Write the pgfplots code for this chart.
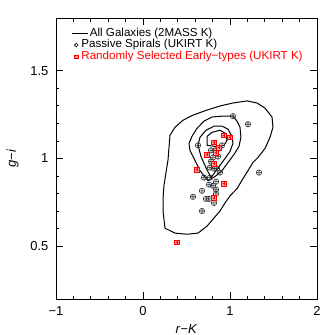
\documentclass[border=0pt]{standalone}
\usepackage{fontspec}
\setmainfont{Liberation Sans}
\usepackage{pgfplots}
\pgfplotsset{compat=1.18}
\usetikzlibrary{calc,plotmarks}
\pgfdeclareplotmark{sqplus}{%
  \pgfpathrectangle{\pgfqpoint{-\pgfplotmarksize}{-\pgfplotmarksize}}{\pgfqpoint{2\pgfplotmarksize}{2\pgfplotmarksize}}%
  \pgfusepathqfillstroke
  \pgfpathmoveto{\pgfqpoint{-0.6\pgfplotmarksize}{0pt}}\pgfpathlineto{\pgfqpoint{0.6\pgfplotmarksize}{0pt}}%
  \pgfpathmoveto{\pgfqpoint{0pt}{-0.6\pgfplotmarksize}}\pgfpathlineto{\pgfqpoint{0pt}{0.6\pgfplotmarksize}}%
  \pgfusepathqstroke}
\begin{document}
\begin{tikzpicture}
\begin{axis}[
  scale only axis, width=261pt, height=281pt,
  xmin=-1, xmax=2, ymin=0.2, ymax=1.8,
  xtick={-1,0,1,2}, xticklabels={−1,0,1,2},
  ytick={0.5,1,1.5}, yticklabels={0.5,1,1.5},
  minor x tick num=4, minor y tick num=4,
  major tick length=7pt, minor tick length=3.5pt,
  tick style={black, line width=0.8pt},
  axis line style={line width=0.8pt},
  tick label style={font=\fontsize{13}{13}\selectfont},
  xticklabel style={yshift=-4pt},
  yticklabel style={xshift=-4pt},
  xlabel={\textit{r}−\textit{K}}, ylabel={\textit{g}−\textit{i}},
  label style={font=\fontsize{13}{13}\selectfont},
  xlabel shift=2pt, ylabel shift=5pt,
  legend style={at={(rel axis cs:0,1)}, anchor=north west, xshift=18pt, yshift=-10pt,
    draw=none, fill=none, inner sep=0pt, row sep=0pt,
    font=\fontsize{11.6}{11.6}\selectfont,
    nodes={inner sep=0.5pt, text height=8pt, text depth=2.3pt},
    /tikz/every odd column/.append style={column sep=2.5pt}},
  legend cell align=left,
]
\coordinate (bl) at (rel axis cs:0,0);
\coordinate (tr) at (rel axis cs:1,1);
% outer contour
\addplot[black, line width=1pt, mark=none,
  legend image code/.code={\path[draw=none,fill=none] (-2pt,-2pt) rectangle (2pt,2pt); \draw[overlay, black, line width=0.8pt] (-4pt,0pt) -- (12pt,0pt);}]
coordinates {(0.253,0.603) (0.368,0.575) (0.506,0.569) (0.632,0.575) (0.736,0.615) (0.805,0.655) (0.885,0.701) (0.943,0.747) (1.0,0.787) (1.080,0.828) (1.149,0.885) (1.207,0.931) (1.264,0.977) (1.322,1.006) (1.402,1.057) (1.460,1.121) (1.494,1.178) (1.483,1.236) (1.402,1.287) (1.310,1.316) (1.195,1.328) (1.034,1.316) (0.885,1.299) (0.736,1.276) (0.575,1.247) (0.460,1.218) (0.368,1.178) (0.310,1.132) (0.299,1.063) (0.287,0.989) (0.264,0.920) (0.241,0.845) (0.230,0.770) (0.230,0.701) (0.253,0.603)};
\addlegendentry{\hspace*{8.5pt}All Galaxies (2MASS K)}
% second contour
\addplot[black, line width=1pt, mark=none, forget plot]
coordinates {(0.747,0.874) (0.655,0.931) (0.598,0.989) (0.540,1.046) (0.529,1.086) (0.563,1.126) (0.621,1.172) (0.701,1.213) (0.793,1.236) (0.908,1.241) (1.034,1.241) (1.080,1.213) (1.115,1.178) (1.126,1.121) (1.103,1.069) (1.046,1.023) (0.977,0.977) (0.908,0.931) (0.828,0.897) (0.747,0.874)};
% third contour
\addplot[black, line width=1pt, mark=none, forget plot]
coordinates {(0.782,0.891) (0.724,0.948) (0.667,1.011) (0.632,1.075) (0.655,1.121) (0.724,1.161) (0.816,1.184) (0.908,1.184) (0.977,1.167) (1.023,1.126) (1.034,1.086) (1.0,1.040) (0.943,1.0) (0.874,0.954) (0.782,0.891)};
% inner contour
\addplot[black, line width=1pt, mark=none, forget plot]
coordinates {(0.736,1.075) (0.736,1.126) (0.793,1.149) (0.885,1.161) (0.943,1.144) (0.966,1.103) (0.931,1.075) (0.828,1.069) (0.736,1.075)};
% passive spirals
\addplot[only marks, mark=oplus, mark size=2.7pt, black!80, mark options={line width=0.6pt},
  legend image code/.code={\path[draw=none,fill=none] (-2pt,-2pt) rectangle (2pt,2pt); \draw[black, fill=none, line width=0.6pt] (0pt,0pt) circle (1.8pt);}]
coordinates {(1.034,1.241) (1.207,1.195) (1.333,0.920) (0.632,1.075) (0.782,1.046) (0.828,1.046) (0.874,1.057) (0.908,1.075) (0.805,1.006) (0.862,1.011) (0.782,0.983) (0.770,0.948) (0.816,0.943) (0.851,0.943) (0.885,0.920) (0.701,0.891) (0.770,0.891) (0.839,0.868) (0.759,0.851) (0.805,0.845) (0.839,0.822) (0.839,0.799) (0.678,0.816) (0.575,0.782) (0.724,0.770) (0.759,0.770) (0.816,0.747) (0.678,0.701)};
\addlegendentry{Passive Spirals (UKIRT K)}
% early types
\addplot[only marks, mark=sqplus, mark size=2.4pt, red, mark options={fill=red!40, line width=0.6pt},
  legend image code/.code={\path[draw=none,fill=none] (-2pt,-2pt) rectangle (2pt,2pt); \draw[red, fill=red!40, line width=0.6pt] (-1.6pt,-1.6pt) rectangle (1.6pt,1.6pt);}]
coordinates {(0.931,1.132) (1.0,1.121) (0.816,1.092) (0.874,1.063) (0.736,1.023) (0.839,1.034) (0.816,0.971) (0.621,0.937) (0.931,0.856) (0.816,0.776) (0.391,0.523)};
\addlegendentry{\textcolor{red}{Randomly Selected Early−types (UKIRT K)}}
\end{axis}
\pgfresetboundingbox
\path[use as bounding box] ($(bl)+(-56pt,-36pt)$) rectangle ($(tr)+(18pt,18pt)$);
\end{tikzpicture}
\end{document}
